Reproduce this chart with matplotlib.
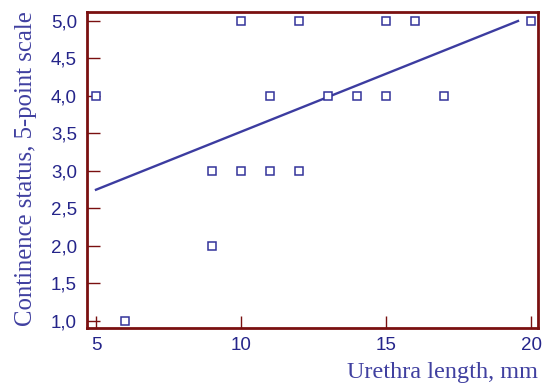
import matplotlib
matplotlib.use("Agg")
import matplotlib.pyplot as plt
from matplotlib.ticker import FuncFormatter

# Data
urethra_length = [5, 6, 9, 9, 10, 10, 11, 11, 12, 12, 13, 14, 15, 15, 16, 17, 20]
continence = [4, 1, 3, 2, 5, 3, 4, 3, 5, 3, 4, 4, 5, 4, 5, 4, 5]
fit_x = [5, 19.55]
fit_y = [2.75, 5.0]
x_ticks = [5, 10, 15, 20]
y_ticks = [1.0, 1.5, 2.0, 2.5, 3.0, 3.5, 4.0, 4.5, 5.0]

spine_col = "#7a1010"
mark_col = "#33339a"
text_col = "#25258a"
label_col = "#4040a0"

fig = plt.figure(figsize=(5.53, 3.85), dpi=100)
ax = fig.add_axes([0.1568, 0.1488, 0.9734 - 0.1568, 0.9696 - 0.1488])

ax.plot(urethra_length, continence, linestyle="none", marker="s", markersize=5.5,
        markerfacecolor="white", markeredgecolor=mark_col, markeredgewidth=1.1, zorder=3)
ax.plot(fit_x, fit_y, color="#3c3ca0", linewidth=1.7, zorder=2)

ax.set_xlim(4.68, 20.25)
ax.set_ylim(0.91, 5.124)
ax.set_xticks(x_ticks)
ax.set_yticks(y_ticks)
ax.xaxis.set_major_formatter(FuncFormatter(lambda v, p: f"{v:g}"))
ax.yaxis.set_major_formatter(FuncFormatter(lambda v, p: f"{v:.1f}".replace(".", ",")))

for s in ax.spines.values():
    s.set_color(spine_col)
    s.set_linewidth(2)

ax.tick_params(axis="both", direction="in", length=9, width=1, color=spine_col,
               labelcolor=text_col, labelsize=13.5, pad=7,
               top=False, right=False)
for lbl in ax.get_xticklabels() + ax.get_yticklabels():
    lbl.set_fontfamily("Liberation Sans")

fig.text(0.9734, 0.033, "Urethra length, mm", ha="right", va="center",
         fontsize=17.5, family="Liberation Serif", color=label_col)
fig.text(0.047, 0.562, "Continence status, 5-point scale", ha="center", va="center",
         rotation=90, fontsize=17.8, family="Liberation Serif", color=label_col)

fig.savefig("out.png", dpi=100)
